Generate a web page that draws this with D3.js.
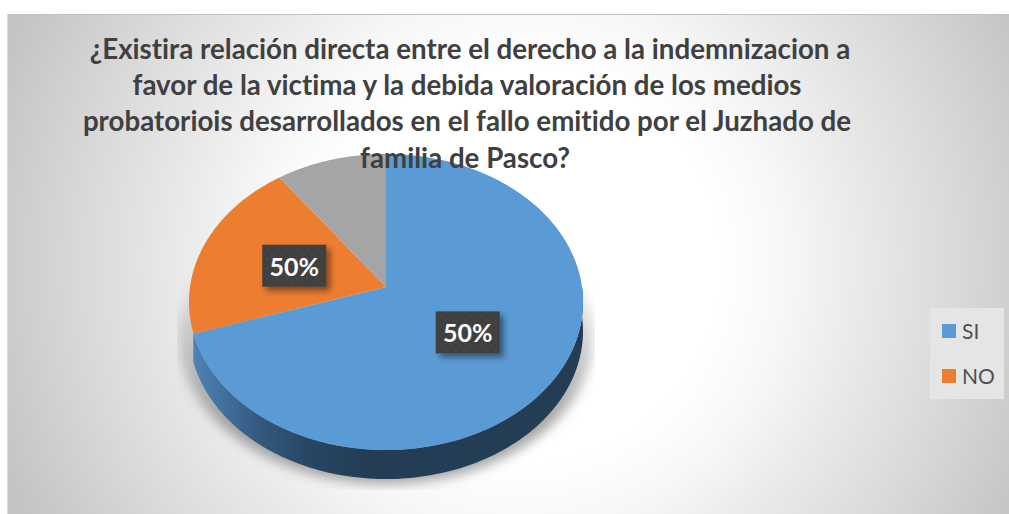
<!DOCTYPE html>
<html><head><meta charset="utf-8">
<script src="https://cdn.jsdelivr.net/npm/d3@7"></script>
<style>html,body{margin:0;padding:0;background:#fff}svg{display:block}text{font-variant-ligatures:none}</style>
</head><body><div id="c"></div>
<script>
const titleLines=["¿Existira relación directa entre el derecho a la indemnizacion a","favor de la victima y la debida valoración de los medios","probatoriois desarrollados en el fallo emitido por el Juzhado de","familia de Pasco?"];
const categories=["SI","NO","Otro"];
const values=[70,20,10];
const sliceLabels=["50%","50%",null];
const colors=["#5b9bd5","#ed7d31","#a5a5a5"];
const legendItems=["SI","NO"];

const W=1009,H=514;
const svg=d3.select("#c").append("svg").attr("width",W).attr("height",H).style("font-family","Lato, sans-serif");
const defs=svg.append("defs");

const bg=defs.append("radialGradient").attr("id","bg").attr("gradientUnits","userSpaceOnUse")
  .attr("cx",520).attr("cy",264).attr("r",555);
[[0,"#ffffff"],[0.36,"#ffffff"],[0.48,"#f7f7f7"],[0.6,"#ebebeb"],[0.77,"#dbdbdb"],[1,"#c4c4c4"]].forEach(s=>bg.append("stop").attr("offset",s[0]).attr("stop-color",s[1]));

const wall=defs.append("linearGradient").attr("id","wall").attr("gradientUnits","userSpaceOnUse")
  .attr("x1",190).attr("x2",584).attr("y1",0).attr("y2",0);
[[0,"#4f86b8"],[0.17,"#345a80"],[0.3,"#274663"],[0.45,"#233d55"],[1,"#233d55"]].forEach(s=>wall.append("stop").attr("offset",s[0]).attr("stop-color",s[1]));

defs.append("filter").attr("id","blur").attr("x","-20%").attr("y","-20%").attr("width","140%").attr("height","140%")
  .append("feGaussianBlur").attr("stdDeviation",6);
const ds=defs.append("filter").attr("id","ds").attr("x","-30%").attr("y","-30%").attr("width","170%").attr("height","170%");
ds.append("feDropShadow").attr("dx",4).attr("dy",4).attr("stdDeviation",3).attr("flood-color","#000").attr("flood-opacity",0.45);
const pat=defs.append("pattern").attr("id","dots").attr("width",10).attr("height",10).attr("patternUnits","userSpaceOnUse");
pat.append("rect").attr("width",10).attr("height",10).attr("fill","#404040");
pat.append("circle").attr("cx",3).attr("cy",3).attr("r",0.8).attr("fill","#555");
pat.append("circle").attr("cx",8).attr("cy",8).attr("r",0.8).attr("fill","#555");
defs.append("clipPath").attr("id","shadowClip").append("rect").attr("x",177).attr("y",200).attr("width",418).attr("height",290);
const fade=defs.append("linearGradient").attr("id","fade").attr("gradientUnits","userSpaceOnUse")
  .attr("x1",0).attr("x2",0).attr("y1",255).attr("y2",420);
[[0,"#000"],[1,"#fff"]].forEach((s,i)=>fade.append("stop").attr("offset",i).attr("stop-color",s[1]));
defs.append("mask").attr("id","shadowMask").attr("maskUnits","userSpaceOnUse").attr("x",0).attr("y",0).attr("width",W).attr("height",H)
  .append("rect").attr("width",W).attr("height",H).attr("fill","url(#fade)");

// chart area
svg.append("rect").attr("x",8).attr("y",14).attr("width",W-8).attr("height",H-14).attr("fill","url(#bg)");
svg.append("line").attr("x1",7.5).attr("x2",7.5).attr("y1",14).attr("y2",H).attr("stroke","#dcdcdc");
svg.append("line").attr("x1",8).attr("x2",W).attr("y1",14.5).attr("y2",14.5).attr("stroke","#c0c0c0");

// perspective projection of the pie disc
const cx=386,cy=287,k=-0.1014,A=146.5,B=196,depth=29;
const rScale=d3.scaleLinear().domain([0,1]).range([0,1]);
const project=(a,r)=>{const u=Math.sin(a)*rScale(r),v=-Math.cos(a)*rScale(r),d=1+k*v;return [cx+B*u/d,cy+A*v/d];};
const pie=d3.pie().sort(null).value(d=>d);
const arcs=pie(values);
const line=d3.line();
const rimPts=(a0,a1)=>d3.range(0,121).map(i=>project(a0+(a1-a0)*i/120,1));

// shadow
const disc=rimPts(0,2*Math.PI);
const shadowPts=disc.map(p=>[cx+(p[0]-cx)*1.05,p[1]+depth+5]);
svg.append("g").attr("mask","url(#shadowMask)").append("g").attr("clip-path","url(#shadowClip)")
  .append("path").attr("d",line(shadowPts)+"Z").attr("fill","#8f8f8f").attr("opacity",0.8).attr("filter","url(#blur)");

// wall
const extrude=pts=>line(pts.concat(pts.slice().reverse().map(p=>[p[0],p[1]+depth])))+"Z";
svg.append("path").attr("d",extrude(rimPts(arcs[0].endAngle,arcs[0].endAngle+0.012))).attr("fill","#c8651d");
svg.append("path").attr("d",extrude(rimPts(Math.PI*0.5,arcs[0].endAngle))).attr("fill","url(#wall)");

// top surface
svg.append("g").selectAll("path").data(arcs).join("path")
  .attr("d",d=>line([[cx,cy]].concat(rimPts(d.startAngle,d.endAngle)))+"Z")
  .attr("fill",(d,i)=>colors[i]);

// data labels
const lab=svg.append("g").selectAll("g").data(arcs.filter((d,i)=>sliceLabels[i])).join("g")
  .attr("transform",d=>{const p=project((d.startAngle+d.endAngle)/2,0.5);return `translate(${p[0]},${p[1]+1})`;});
lab.append("rect").attr("x",-32).attr("y",-21).attr("width",64).attr("height",42).attr("fill","url(#dots)").attr("filter","url(#ds)");
lab.append("text").attr("text-anchor","middle").attr("y",10).attr("fill","#fff").attr("font-size",25).attr("font-weight",700)
  .text(d=>sliceLabels[d.index]);

// title
svg.append("g").selectAll("text").data(titleLines).join("text")
  .attr("x",(d,i)=>[470,467,467,465][i]).attr("y",(d,i)=>59+i*36.2)
  .attr("text-anchor","middle").attr("font-size",27.7).attr("font-weight",700).attr("fill","#404040").text(d=>d);

// legend
svg.append("rect").attr("x",930).attr("y",308).attr("width",74).attr("height",91).attr("fill","#e5e5e5");
const lg=svg.append("g").selectAll("g").data(legendItems).join("g").attr("transform",(d,i)=>`translate(942,${324+i*45})`);
lg.append("rect").attr("width",14).attr("height",14).attr("fill",(d,i)=>colors[i]);
lg.append("text").attr("x",20).attr("y",15).attr("font-size",21).attr("fill","#505050").text(d=>d);
</script></body></html>
